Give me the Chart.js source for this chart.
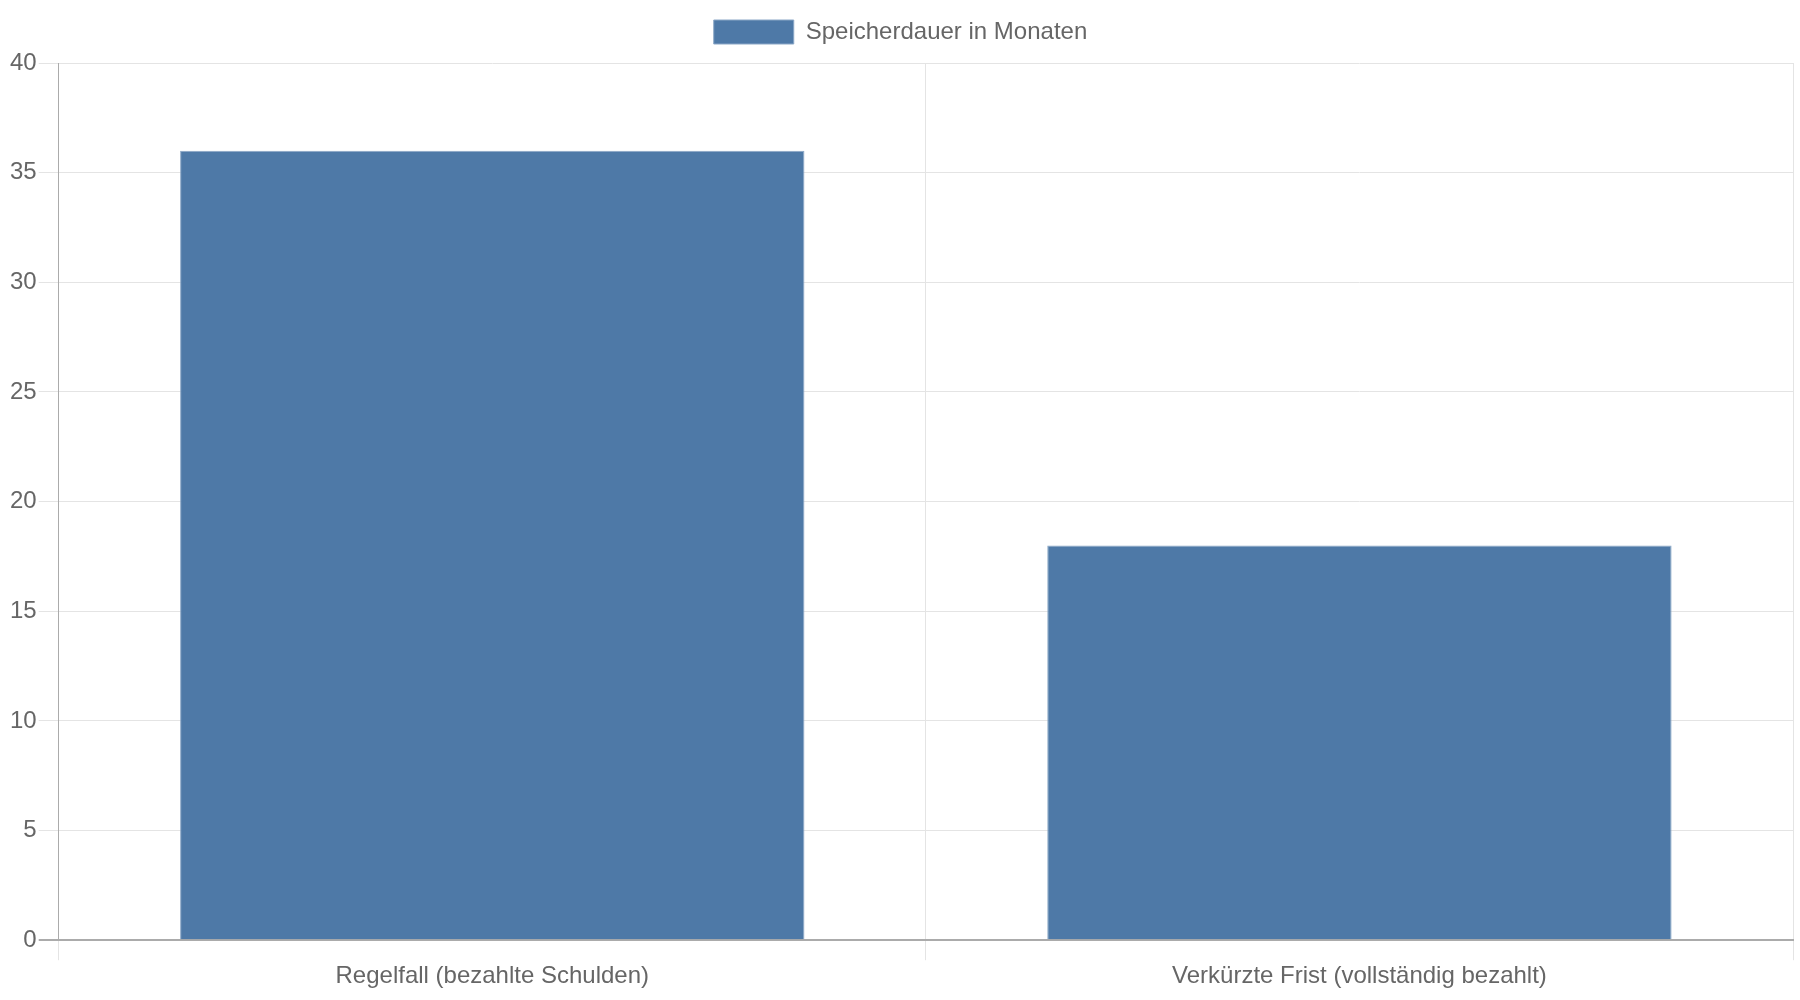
<!DOCTYPE html>
<html lang="de">
<head>
<meta charset="UTF-8">
<title>Speicherdauer</title>
<script src="https://cdn.jsdelivr.net/npm/chart.js"></script>
<style>
  html, body { margin: 0; padding: 0; background: #fff; }
  #wrap { width: 1800px; height: 1000px; }
</style>
</head>
<body>
<div id="wrap"><canvas id="chart"></canvas></div>
<script>
// Daten aus dem Bild
const kategorien = ['Regelfall (bezahlte Schulden)', 'Verkürzte Frist (vollständig bezahlt)'];
const monate = [36, 18];
const serienName = 'Speicherdauer in Monaten';

Chart.defaults.font.family = "'Liberation Sans', Arial, sans-serif";
Chart.defaults.font.size = 24;
Chart.defaults.color = '#666';

const achsenFarbe = '#ababab';
const gitterFarbe = '#e4e4e4';

// etwas mehr Abstand unter der Legende
const legendenAbstand = {
  id: 'legendenAbstand',
  afterInit(chart) {
    const fit = chart.legend.fit;
    chart.legend.fit = function () {
      fit.call(this);
      this.height += 9;
    };
  }
};

new Chart(document.getElementById('chart'), {
  type: 'bar',
  data: {
    labels: kategorien,
    datasets: [{
      label: serienName,
      data: monate,
      backgroundColor: '#4e79a7',
      borderColor: '#8aa7c6',
      borderWidth: 1
    }]
  },
  options: {
    responsive: true,
    maintainAspectRatio: false,
    animation: false,
    devicePixelRatio: 1,
    layout: { padding: { left: 8, right: 7, top: 0, bottom: 7 } },
    plugins: {
      legend: {
        labels: { boxWidth: 80, boxHeight: 24, padding: 20 }
      },
      tooltip: { enabled: false }
    },
    scales: {
      x: {
        grid: { color: gitterFarbe, tickLength: 20, offset: true },
        border: { color: achsenFarbe, width: 2 },
        ticks: { padding: 2 }
      },
      y: {
        min: 0,
        max: 40,
        ticks: { stepSize: 5, padding: 2 },
        grid: {
          tickLength: 20,
          color: ctx => ctx.tick && ctx.tick.value === 0 ? achsenFarbe : gitterFarbe,
          lineWidth: ctx => ctx.tick && ctx.tick.value === 0 ? 2 : 1
        },
        border: { color: achsenFarbe, width: 1 }
      }
    }
  },
  plugins: [legendenAbstand]
});
</script>
</body>
</html>
